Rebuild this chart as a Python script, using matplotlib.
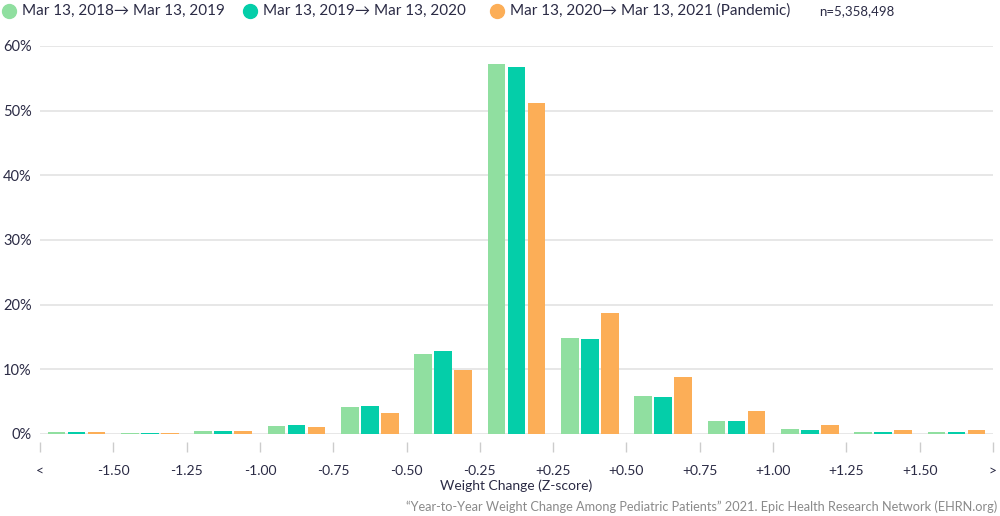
import numpy as np
import matplotlib
matplotlib.use("Agg")
import matplotlib.pyplot as plt
from matplotlib.lines import Line2D

plt.rcParams['font.family'] = ['Lato', 'DejaVu Sans']

# bin edges shown as tick labels (14 edges -> 13 bins)
edge_labels = ["<", "-1.50", "-1.25", "-1.00", "-0.75", "-0.50", "-0.25",
               "+0.25", "+0.50", "+0.75", "+1.00", "+1.25", "+1.50", ">"]

series_names = ["Mar 13, 2018\u2192 Mar 13, 2019",
                "Mar 13, 2019\u2192 Mar 13, 2020",
                "Mar 13, 2020\u2192 Mar 13, 2021 (Pandemic)"]

pct_2018 = [0.25, 0.2, 0.45, 1.3, 4.1, 12.4, 57.2, 14.9, 5.8, 2.0, 0.7, 0.3, 0.3]
pct_2019 = [0.25, 0.2, 0.5, 1.45, 4.3, 12.8, 56.7, 14.7, 5.7, 2.0, 0.65, 0.25, 0.3]
pct_2020 = [0.25, 0.2, 0.45, 1.05, 3.3, 9.9, 51.2, 18.7, 8.8, 3.6, 1.45, 0.55, 0.55]

colors = ["#90dfa0", "#04cea9", "#fcae57"]
text_col = "#2b2b45"

fig = plt.figure(figsize=(10, 5.16), dpi=100)
ax = fig.add_axes([0.04, 0.159, 0.953, 0.752])

x = np.arange(len(pct_2018)) + 0.5
width = 0.24
stride = 0.273
for i, vals in enumerate([pct_2018, pct_2019, pct_2020]):
    ax.bar(x + (i - 1) * stride, vals, width=width, color=colors[i],
           linewidth=0, zorder=3)

ax.set_xlim(0, 13)
ax.set_ylim(0, 60)
ax.set_yticks(np.arange(0, 61, 10))
ax.set_yticklabels([f"{v}%" for v in range(0, 61, 10)])
ax.set_xticks(np.arange(0, 14))
ax.set_xticklabels(edge_labels)
ax.grid(axis="y", color="#e3e3e3", linewidth=1.2, zorder=0)
ax.set_axisbelow(True)
for s in ["top", "right", "left", "bottom"]:
    ax.spines[s].set_visible(False)
ax.spines["bottom"].set_position(("outward", 6))
ax.tick_params(axis="y", length=0, labelsize=10.5, labelcolor=text_col, pad=6)
ax.tick_params(axis="x", length=7, width=1, color="#cccccc",
               labelsize=10, labelcolor=text_col, pad=9)
ax.set_xlabel("Weight Change (Z-score)", fontsize=10, color=text_col, labelpad=2)

# legend along the top
legend_x = [0.009, 0.250, 0.497]
for lx, name, c in zip(legend_x, series_names, colors):
    fig.add_artist(Line2D([lx], [0.979], marker="o", markersize=10,
                          color=c, linestyle="none", transform=fig.transFigure))
    fig.text(lx + 0.013, 0.979, name, fontsize=11, color=text_col,
             va="center", ha="left")
fig.text(0.819, 0.979, "n=5,358,498", fontsize=9.5, color=text_col,
         va="center", ha="left")

fig.text(0.997, 0.005,
         "\u201cYear-to-Year Weight Change Among Pediatric Patients\u201d 2021. "
         "Epic Health Research Network (EHRN.org)",
         fontsize=9.2, color="#8a8a8a", ha="right", va="bottom")

fig.savefig("out.png", dpi=100)
